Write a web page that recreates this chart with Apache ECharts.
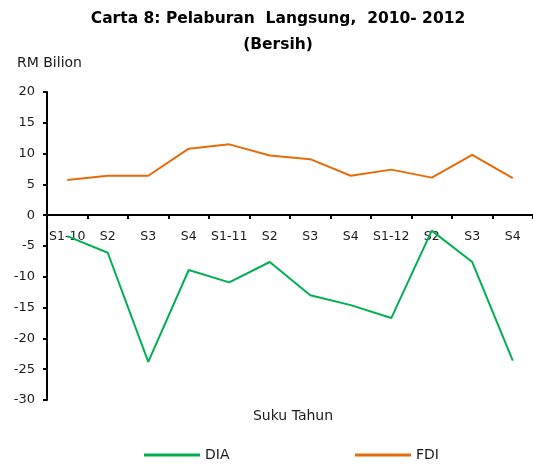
<!DOCTYPE html>
<html>
<head>
<meta charset="utf-8">
<script src="https://cdn.jsdelivr.net/npm/echarts@6/dist/echarts.min.js"></script>
<style>
  html, body { margin: 0; padding: 0; background: #fff; }
  #chart { width: 533px; height: 466px; }
</style>
</head>
<body>
<div id="chart"></div>
<script>
// suku tahun
var quarters = ['S1-10', 'S2', 'S3', 'S4', 'S1-11', 'S2', 'S3', 'S4', 'S1-12', 'S2', 'S3', 'S4']
// RM bilion
var diaValues = [-3.4, -6.1, -23.8, -8.9, -10.9, -7.6, -13.0, -14.6, -16.7, -2.5, -7.6, -23.6]
var fdiValues = [5.7, 6.4, 6.4, 10.8, 11.5, 9.7, 9.1, 6.4, 7.4, 6.1, 9.8, 6.0]

var font = 'DejaVu Sans'
var textColor = '#1a1a1a'

var chart = echarts.init(document.getElementById('chart'))

chart.setOption({
  backgroundColor: '#fff',
  animation: false,
  title: [{
    text: 'Carta 8: Pelaburan  Langsung,  2010- 2012\n(Bersih)',
    left: 273,
    top: 1,
    textAlign: 'center',
    textStyle: { fontFamily: font, fontWeight: 'bold', fontSize: 15.5, lineHeight: 26, color: '#000' }
  }, {
    text: 'RM Bilion',
    left: 12,
    top: 51,
    textStyle: { fontFamily: font, fontWeight: 'normal', fontSize: 14, color: textColor }
  }, {
    text: 'Suku Tahun',
    left: 288,
    top: 404,
    textAlign: 'center',
    textStyle: { fontFamily: font, fontWeight: 'normal', fontSize: 14, color: textColor }
  }],
  // 图注
  legend: [{
    data: ['DIA'],
    left: 139,
    top: 443,
    icon: 'rect',
    itemWidth: 56,
    itemHeight: 3,
    itemGap: 6,
    textStyle: { fontFamily: font, fontSize: 14, color: textColor }
  }, {
    data: ['FDI'],
    left: 350,
    top: 443,
    icon: 'rect',
    itemWidth: 56,
    itemHeight: 3,
    textStyle: { fontFamily: font, fontSize: 14, color: textColor }
  }],
  grid: {
    left: 47,
    top: 92,
    width: 488,
    height: 308
  },
  xAxis: {
    type: 'category',
    data: quarters,
    position: 'bottom',
    // 轴线放在0的位置：从底部往上移 (400 - 215)
    offset: -185,
    axisLine: { onZero: false, lineStyle: { color: '#000', width: 2 } },
    axisTick: { show: true, length: 4, lineStyle: { color: '#000', width: 2 } },
    axisLabel: { interval: 0, margin: 15, fontFamily: font, fontSize: 12.5, color: textColor }
  },
  yAxis: {
    type: 'value',
    min: -30,
    max: 20,
    interval: 5,
    axisLine: { show: true, lineStyle: { color: '#000', width: 2 } },
    axisTick: { show: true, length: 4, lineStyle: { color: '#000', width: 2 } },
    axisLabel: { margin: 12, fontFamily: font, fontSize: 13, color: textColor },
    splitLine: { show: false }
  },
  series: [{
    name: 'DIA',
    type: 'line',
    data: diaValues,
    symbol: 'none',
    color: '#00b050',
    lineStyle: { width: 2, color: '#00b050' }
  }, {
    name: 'FDI',
    type: 'line',
    data: fdiValues,
    symbol: 'none',
    color: '#e46c0a',
    lineStyle: { width: 2, color: '#e46c0a' }
  }]
})
</script>
</body>
</html>
